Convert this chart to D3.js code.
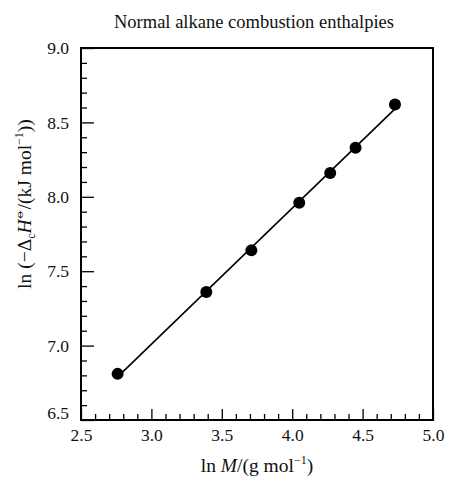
<!DOCTYPE html>
<html>
<head>
<meta charset="utf-8">
<script src="https://cdn.jsdelivr.net/npm/d3@7"></script>
<style>
  body { margin: 0; background: #fff; }
  svg { font-family: "Liberation Serif", "DejaVu Serif", serif; }
</style>
</head>
<body>
<svg id="chart"></svg>
<script>
// data: ln M and ln(-ΔcH)
var lnM = [2.76, 3.39, 3.71, 4.05, 4.27, 4.45, 4.73];
var lnH = [6.81, 7.36, 7.64, 7.96, 8.16, 8.33, 8.62];
var xTicks = [2.5, 3.0, 3.5, 4.0, 4.5, 5.0];
var yTicks = [6.5, 7.0, 7.5, 8.0, 8.5, 9.0];
var title = "Normal alkane combustion enthalpies";

var width = 451, height = 485;
var margin = { top: 48, right: 18, bottom: 65, left: 81 };

var svg = d3.select("#chart").attr("width", width).attr("height", height);

var x = d3.scaleLinear().domain([2.5, 5.0]).range([margin.left, width - margin.right]);
var y = d3.scaleLinear().domain([6.5, 9.0]).range([height - margin.bottom, margin.top]);

// minor ticks every 0.1
var xMinor = d3.range(25, 51).map(d => d / 10).filter(d => xTicks.indexOf(d) < 0);
var yMinor = d3.range(65, 91).map(d => d / 10).filter(d => yTicks.indexOf(d) < 0);

// bottom axis (ticks point into the frame)
var gx = svg.append("g")
    .attr("transform", "translate(0," + y.range()[0] + ")")
    .call(d3.axisBottom(x).tickValues(xTicks).tickFormat(d3.format(".1f"))
        .tickSizeInner(-11).tickSizeOuter(0).tickPadding(9));
svg.append("g")
    .attr("transform", "translate(0," + y.range()[0] + ")")
    .call(d3.axisBottom(x).tickValues(xMinor).tickFormat("").tickSizeInner(-6).tickSizeOuter(0))
    .call(g => g.select(".domain").remove());

// left axis
var gy = svg.append("g")
    .attr("transform", "translate(" + x.range()[0] + ",0)")
    .call(d3.axisLeft(y).tickValues(yTicks).tickFormat(d3.format(".1f"))
        .tickSizeInner(-13).tickSizeOuter(0).tickPadding(12));
svg.append("g")
    .attr("transform", "translate(" + x.range()[0] + ",0)")
    .call(d3.axisLeft(y).tickValues(yMinor).tickFormat("").tickSizeInner(-6).tickSizeOuter(0))
    .call(g => g.select(".domain").remove());

svg.selectAll(".tick line").attr("stroke", "#000").attr("stroke-width", 1.3);
svg.selectAll(".tick text").attr("font-size", 17.5).attr("fill", "#111")
    .attr("font-family", "Liberation Serif");
// the lowest y label sits a little above its tick
gy.selectAll(".tick").filter(d => d === 6.5).select("text").attr("y", -7);
gx.select(".domain").remove();
gy.select(".domain").remove();

// frame
svg.append("rect")
    .attr("x", x.range()[0]).attr("y", y.range()[1])
    .attr("width", x.range()[1] - x.range()[0])
    .attr("height", y.range()[0] - y.range()[1])
    .attr("fill", "none").attr("stroke", "#000").attr("stroke-width", 2);

// least-squares line through the points
var mx = d3.mean(lnM), my = d3.mean(lnH);
var slope = d3.sum(lnM.map((v, i) => (v - mx) * (lnH[i] - my))) / d3.sum(lnM.map(v => (v - mx) * (v - mx)));
var icpt = my - slope * mx;
var ends = [d3.min(lnM), d3.max(lnM)];
svg.append("path")
    .datum(ends)
    .attr("fill", "none").attr("stroke", "#000").attr("stroke-width", 1.6)
    .attr("d", d3.line().x(d => x(d)).y(d => y(icpt + slope * d)));

// points
svg.selectAll(".pt")
    .data(lnM.map((v, i) => [v, lnH[i]]))
    .enter().append("circle")
    .attr("class", "pt")
    .attr("cx", d => x(d[0]))
    .attr("cy", d => y(d[1]))
    .attr("r", 6)
    .attr("fill", "#000");

// title
svg.append("text")
    .attr("x", 254).attr("y", 28)
    .attr("text-anchor", "middle")
    .attr("font-size", 18.5)
    .attr("fill", "#111")
    .text(title);

// x label
var xl = svg.append("text")
    .attr("x", 257).attr("y", 472)
    .attr("text-anchor", "middle")
    .attr("font-size", 19.5)
    .attr("fill", "#111");
xl.append("tspan").text("ln ");
xl.append("tspan").attr("font-style", "italic").text("M");
xl.append("tspan").text("/(g mol");
xl.append("tspan").attr("font-size", 12).attr("dy", -8).text("\u22121");
xl.append("tspan").attr("dy", 8).text(")");

// y label
var yl = svg.append("text")
    .attr("transform", "translate(31,204) rotate(-90)")
    .attr("text-anchor", "middle")
    .attr("font-size", 19.5)
    .attr("fill", "#111");
yl.append("tspan").text("ln (\u2212\u0394");
yl.append("tspan").attr("font-size", 12).attr("dy", 4).text("c");
yl.append("tspan").attr("font-style", "italic").attr("dy", -4).text("H");
yl.append("tspan").attr("font-size", 12).attr("dy", -8).text("\u29B5");
yl.append("tspan").attr("dy", 8).text("/(kJ mol");
yl.append("tspan").attr("font-size", 12).attr("dy", -8).text("\u22121");
yl.append("tspan").attr("dy", 8).text("))");
</script>
</body>
</html>
